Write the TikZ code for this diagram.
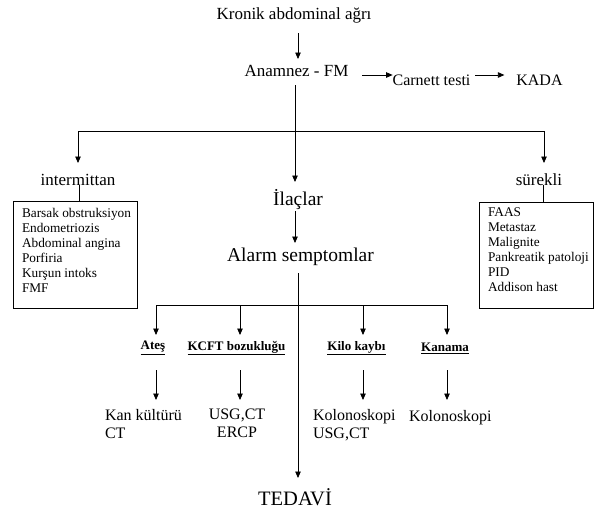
\documentclass[tikz,border=0pt]{standalone}
\usepackage{fontspec}
\setmainfont{Liberation Serif}
\usetikzlibrary{arrows.meta}
\begin{document}
\begin{tikzpicture}[x=1pt,y=-1pt,
  every node/.style={inner sep=0pt, outer sep=0pt},
  line/.style={line width=0.8pt},
  arr/.style={line width=0.8pt, -{Triangle[length=6.5pt,width=5.5pt]}},
  big/.style={font=\fontsize{17}{20}\selectfont},
  mid/.style={font=\fontsize{16}{18}\selectfont},
  large/.style={font=\fontsize{19.5}{22}\selectfont},
  boxtext/.style={font=\fontsize{13.3}{15}\selectfont, align=left},
  lab/.style={font=\fontsize{13}{15}\selectfont\bfseries},
  frame/.style={draw, line width=0.8pt}]
\useasboundingbox (0,0) rectangle (595,509);

% nodes
\node[big] (kronik) at (294,15) {Kronik abdominal ağrı};
\node[big] (anam) at (296.5,71) {Anamnez - FM};
\node[mid] (carnett) at (431.5,80) {Carnett testi};
\node[mid] (kada) at (539.5,80) {KADA};
\node[big] (inter) at (78,180) {intermittan};
\node[big] (surekli) at (539,180) {sürekli};
\node[large] (ilac) at (298,200) {İlaçlar};
\node[large] (alarm) at (300.5,257) {Alarm semptomlar};

\node[frame, minimum width=124pt, minimum height=107pt, anchor=north west] (lbox) at (13,201) {};
\node[boxtext, anchor=north west] (ltext) at (22,208) {Barsak obstruksiyon\\Endometriozis\\Abdominal angina\\Porfiria\\Kurşun intoks\\FMF};
\node[frame, minimum width=114pt, minimum height=106pt, anchor=north west] (rbox) at (479,202) {};
\node[boxtext, anchor=north west] (rtext) at (488,208) {FAAS\\Metastaz\\Malignite\\Pankreatik patoloji\\PID\\Addison hast};

\node[lab] (ates) at (153,348) {\underline{Ateş}};
\node[lab] (kcft) at (236.5,348) {\underline{KCFT bozukluğu}};
\node[lab] (kilo) at (356.5,348) {\underline{Kilo kaybı}};
\node[lab] (kanama) at (445,348) {\underline{Kanama}};

\node[mid, align=left, anchor=north west] (r1) at (105,409) {Kan kültürü\\CT};
\node[mid, align=center, anchor=north] (r2) at (237,409) {USG,CT\\ERCP};
\node[mid, align=left, anchor=north west] (r3) at (313,409) {Kolonoskopi\\USG,CT};
\node[mid, anchor=north west] (r4) at (409,410) {Kolonoskopi};
\node[font=\fontsize{20.5}{24}\selectfont, anchor=base] (tedavi) at (295,505) {TEDAVİ};

\coordinate (j1) at (295,131);
\coordinate (j2) at (298,305);

% connectors
\draw[arr] ([xshift=4pt,yshift=-18pt]kronik.center) -- ([xshift=1.5pt,yshift=12pt]anam.center);
\draw[arr] ([xshift=14pt,yshift=-4pt]anam.east) -- ([yshift=5pt]carnett.west);
\draw[arr] ([xshift=5pt,yshift=5pt]carnett.east) -- ([xshift=-12pt,yshift=5pt]kada.west);

\draw[arr] ([xshift=-1.5pt,yshift=-14pt]anam.center) -- ([xshift=-3pt,yshift=18pt]ilac.center);
\draw[arr] (j1) -| ([yshift=17pt]inter.center);
\draw[arr] (j1) -| ([xshift=5pt,yshift=17pt]surekli.center);
\draw[line] ([xshift=1pt,yshift=-5pt]inter.center) -- ([xshift=1pt]lbox.north -| inter.center);
\draw[line] ([xshift=4pt,yshift=-5pt]surekli.center) -- ([xshift=4pt]rbox.north -| surekli.center);

\draw[arr] ([xshift=-3pt,yshift=-11pt]ilac.center) -- ([xshift=-5.5pt,yshift=14pt]alarm.center);
\draw[arr] ([xshift=-2.5pt,yshift=-16pt]alarm.center) -- ([xshift=3pt,yshift=27pt]tedavi.base);

\draw[arr] (j2) -| ([xshift=3pt,yshift=13pt]ates.center);
\draw[arr] (j2) -| ([xshift=3.5pt,yshift=13pt]kcft.center);
\draw[arr] (j2) -| ([xshift=6.5pt,yshift=13pt]kilo.center);
\draw[arr] (j2) -| ([xshift=2pt,yshift=13pt]kanama.center);

\draw[arr] ([xshift=3pt,yshift=-22pt]ates.center) -- ([xshift=3pt,yshift=9pt]r1.north -| ates.center);
\draw[arr] ([xshift=3.5pt,yshift=-22pt]kcft.center) -- ([xshift=3.5pt,yshift=9pt]r2.north -| kcft.center);
\draw[arr] ([xshift=6.5pt,yshift=-22pt]kilo.center) -- ([xshift=6.5pt,yshift=9pt]r3.north -| kilo.center);
\draw[arr] ([xshift=2pt,yshift=-22pt]kanama.center) -- ([xshift=2pt,yshift=10pt]r4.north -| kanama.center);
\end{tikzpicture}
\end{document}
